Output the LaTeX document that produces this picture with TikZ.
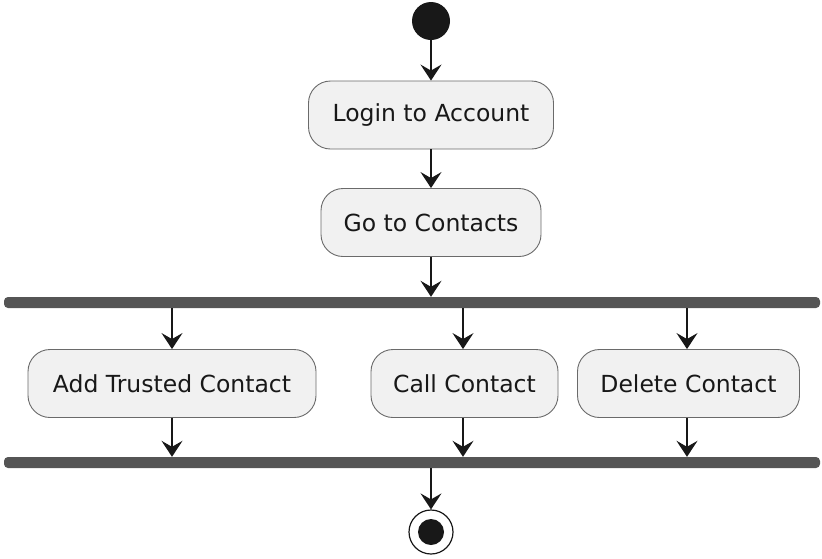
\documentclass[tikz,border=0pt]{standalone}
\usepackage{fontspec}
\setmainfont{DejaVu Sans}
\usetikzlibrary{arrows.meta}
\definecolor{boxfill}{HTML}{F1F1F1}
\definecolor{boxline}{HTML}{6A6A6A}
\definecolor{ink}{HTML}{181818}
\definecolor{barfill}{HTML}{555555}
\tikzset{
  action/.style={draw=boxline, line width=0.9pt, fill=boxfill, rounded corners=22pt,
    minimum height=68pt, inner xsep=0pt, text=ink,
    font=\fontsize{23.5}{27}\selectfont},
  flow/.style={draw=ink, line width=1.4pt,
    -{Stealth[length=16pt, width=21pt, inset=6pt]}},
  bar/.style={fill=barfill, rounded corners=4pt, inner sep=0pt, minimum height=11pt},
}
\begin{document}
\begin{tikzpicture}[x=1pt, y=-1pt]
\useasboundingbox (0,0) rectangle (822,558);
% start and end markers
\node[circle, fill=ink, minimum size=38pt, inner sep=0pt] (start) at (431,21) {};
\node[circle, draw=ink, line width=1.2pt, minimum size=44pt, inner sep=0pt] (stop) at (431,532) {};
\fill[ink] (stop.center) circle (13pt);
% actions
\node[action, minimum width=245pt] (login) at (431,115) {Login to Account};
\node[action, minimum width=220pt] (contacts) at (431,222.5) {Go to Contacts};
\node[action, minimum width=288pt] (add) at (172,383.5) {Add Trusted Contact};
\node[action, minimum width=187pt] (call) at (464.5,383.5) {Call Contact};
\node[action, minimum width=222pt] (delete) at (688.5,383.5) {Delete Contact};
% fork and join bars
\node[bar, minimum width=816pt] (fork) at (412,302.5) {};
\node[bar, minimum width=816pt] (join) at (412,462.5) {};
% connectors
\draw[flow] (start) -- (login);
\draw[flow] (login) -- (contacts);
\draw[flow] (contacts) -- (contacts.south |- fork.north);
\draw[flow] (add.north |- fork.south) -- (add);
\draw[flow] (463,308) coordinate (fc) -- (fc |- call.north);
\draw[flow] (687,308) coordinate (fd) -- (fd |- delete.north);
\draw[flow] (add) -- (add.south |- join.north);
\draw[flow] (463,418) coordinate (jc) -- (jc |- join.north);
\draw[flow] (687,418) coordinate (jd) -- (jd |- join.north);
\draw[flow] (stop.center |- join.south) -- (stop);
\end{tikzpicture}
\end{document}
